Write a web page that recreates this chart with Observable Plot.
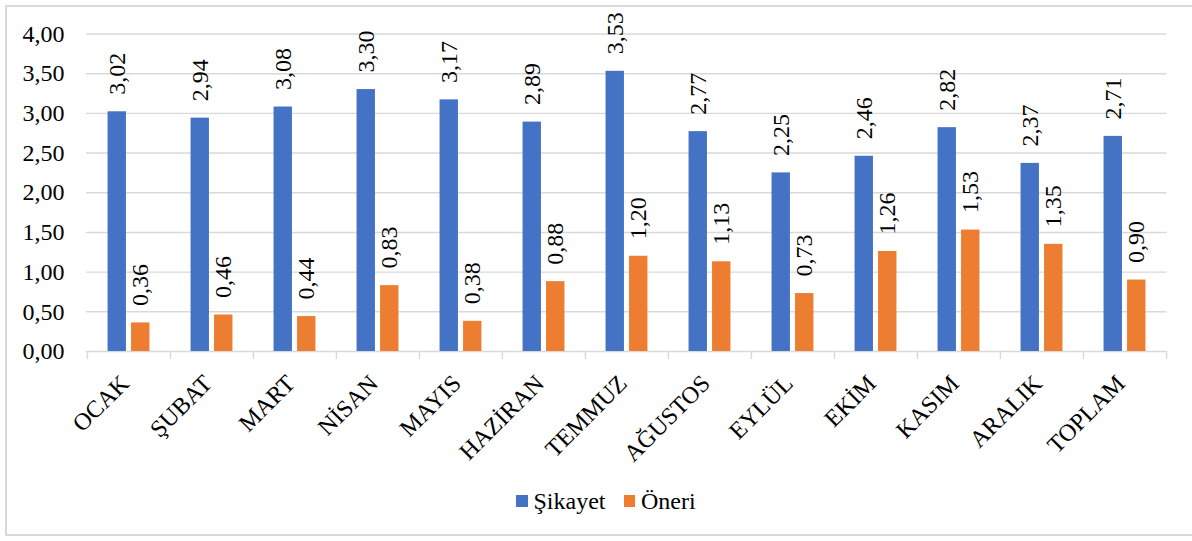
<!DOCTYPE html>
<html><head><meta charset="utf-8">
<script src="https://cdn.jsdelivr.net/npm/d3@7"></script>
<script src="https://cdn.jsdelivr.net/npm/@observablehq/plot@0.6"></script>
<style>
body{margin:0;background:#fff;}
#frame{position:absolute;left:5px;top:5px;width:1190px;height:531px;border:2px solid #d9d9d9;box-sizing:border-box;}
#chart{position:absolute;left:0;top:0;}
svg, svg text{font-family:"Liberation Serif","Times New Roman",serif !important;}
#legend{position:absolute;top:486px;left:516px;height:30px;display:flex;align-items:center;font-family:"Liberation Serif","Times New Roman",serif;font-size:24px;color:#000;}
.item{display:flex;align-items:center;margin-right:18px;}
.sw{width:11.5px;height:11.5px;margin-right:6px;}
</style></head>
<body>
<div id="frame"></div>
<div id="chart"></div>
<div id="legend"></div>
<script>
const months = ["OCAK","ŞUBAT","MART","NİSAN","MAYIS","HAZİRAN","TEMMUZ","AĞUSTOS","EYLÜL","EKİM","KASIM","ARALIK","TOPLAM"];
const sikayet = [3.02,2.94,3.08,3.30,3.17,2.89,3.53,2.77,2.25,2.46,2.82,2.37,2.71];
const oneri = [0.36,0.46,0.44,0.83,0.38,0.88,1.20,1.13,0.73,1.26,1.53,1.35,0.90];
const yTicks = [0,0.5,1,1.5,2,2.5,3,3.5,4];
const seriesNames = ["Şikayet","Öneri"];
const colors = ["#4472C4","#ED7D31"];

const W = 1192, H = 470, ML = 86, MR = 25.5, MT = 33.5, MB = 119;
const bw = (W - ML - MR) / months.length;
const fmt = v => v.toFixed(2).replace(".", ",");

const s1 = months.map((m,i) => ({m, v: sikayet[i]}));
const s2 = months.map((m,i) => ({m, v: oneri[i]}));
const barW = 18.5, gap = 5, outer = (bw - 2*barW - gap)/2;
const off = (barW + gap)/2;

const plot = Plot.plot({
  width: W, height: H,
  marginLeft: ML, marginRight: MR, marginTop: MT, marginBottom: MB,
  style: {fontFamily: "'Liberation Serif', serif", fontSize: "24px", color: "#000", background: "transparent", overflow: "visible"},
  x: {domain: months, padding: 0, label: null},
  y: {domain: [0, 4], label: null},
  marks: [
    Plot.ruleY(yTicks, {y: d => d, stroke: "#d9d9d9", strokeWidth: 1.4}),
    Plot.ruleX(months, {x: d => d, y1: 0, y2: 0, insetBottom: -8, dx: -bw/2, stroke: "#d9d9d9", strokeWidth: 1.4}),
    Plot.ruleX([months[months.length-1]], {x: d => d, y1: 0, y2: 0, insetBottom: -8, dx: bw/2, stroke: "#d9d9d9", strokeWidth: 1.4}),
    Plot.barY(s1, {x: "m", y: "v", fill: colors[0], insetLeft: outer, insetRight: outer + barW + gap}),
    Plot.barY(s2, {x: "m", y: "v", fill: colors[1], insetLeft: outer + barW + gap, insetRight: outer}),
    Plot.text(s1, {x: "m", y: "v", text: d => fmt(d.v), rotate: -90, textAnchor: "start", dx: -off, dy: -17, fill: "#000", fontSize: 24}),
    Plot.text(s2, {x: "m", y: "v", text: d => fmt(d.v), rotate: -90, textAnchor: "start", dx: off, dy: -17, fill: "#000", fontSize: 24}),
    Plot.axisY({ticks: yTicks, tickSize: 0, tickPadding: 22, tickFormat: fmt, label: null, fontSize: 24}),
    Plot.axisX({tickSize: 0, tickRotate: -45, tickPadding: 24, dx: -4, dy: 4, label: null, fontSize: 24})
  ]
});
document.getElementById("chart").appendChild(plot);

const lg = document.getElementById("legend");
seriesNames.forEach((n,i) => {
  const it = document.createElement("div"); it.className = "item";
  const sw = document.createElement("div"); sw.className = "sw"; sw.style.background = colors[i];
  const t = document.createElement("span"); t.textContent = n;
  it.appendChild(sw); it.appendChild(t); lg.appendChild(it);
});
</script>
</body></html>
